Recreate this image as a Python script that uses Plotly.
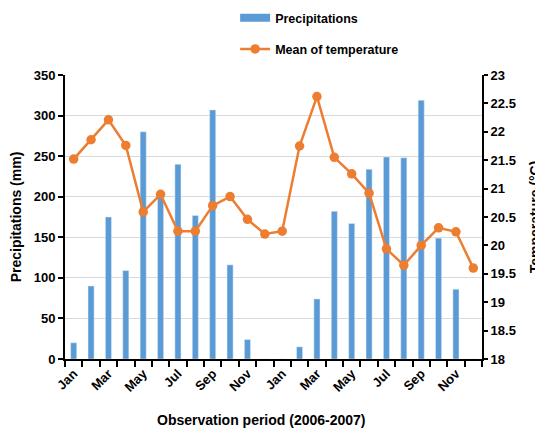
import plotly.graph_objects as go

months = ["Jan", "Feb", "Mar", "Apr", "May", "Jun", "Jul", "Aug", "Sep", "Oct", "Nov", "Dec"] * 2
precip = [20, 90, 175, 109, 280, 200, 240, 177, 307, 116, 24, 0,
          0, 15, 74, 182, 167, 234, 249, 248, 319, 149, 86, 0]
temp = [21.52, 21.86, 22.21, 21.76, 20.59, 20.90, 20.25, 20.25, 20.70, 20.86, 20.46, 20.20,
        20.25, 21.75, 22.62, 21.55, 21.26, 20.92, 19.94, 19.65, 20.00, 20.31, 20.24, 19.60]

x = list(range(len(months)))
tick_idx = x[::2]
tick_text = [months[i] for i in tick_idx]

FONT = "Liberation Sans, Arial, sans-serif"
BLUE = "#5B9BD5"
ORANGE = "#ED7D31"

fig = go.Figure()
fig.add_trace(go.Bar(x=x, y=precip, name="Precipitations", marker_color=BLUE,
                     width=0.35, showlegend=False, yaxis="y"))
# legend entry for bars (wide rectangle symbol as in the original)
fig.add_trace(go.Scatter(x=[None], y=[None], name="<b>Precipitations</b>", mode="lines",
                         line=dict(color=BLUE, width=8), legendgroup="a", yaxis="y"))
fig.add_trace(go.Scatter(x=x, y=temp, name="<b>Mean of temperature</b>", mode="lines+markers",
                         line=dict(color=ORANGE, width=2.5),
                         marker=dict(color=ORANGE, size=9.5), legendgroup="b", yaxis="y2"))

fig.update_layout(
    width=543, height=434,
    margin=dict(l=57, r=69, t=67, b=83, autoexpand=False),
    paper_bgcolor="white", plot_bgcolor="white",
    font=dict(family=FONT, size=13, color="black"),
    showlegend=True,
    legend=dict(x=0.408, y=1.2535, xanchor="left", yanchor="top",
                orientation="v", tracegroupgap=12, font=dict(size=12.5), bgcolor="rgba(0,0,0,0)"),
    xaxis=dict(range=[-0.5, 23.5], tickvals=tick_idx, ticktext=["<b>%s</b>" % t for t in tick_text],
               tickangle=-45, ticks="", showline=True, linecolor="black", linewidth=2,
               showgrid=False, zeroline=False, automargin=False,
               minor=dict(tickvals=[i - 0.5 for i in range(25)], ticks="outside", ticklen=6,
                          tickwidth=1.5, tickcolor="black", showgrid=False)),
    yaxis=dict(range=[0, 350], dtick=50, showline=True, linecolor="black", linewidth=2,
               ticks="outside", ticklen=5, tickwidth=1.5, tickcolor="black",
               showgrid=True, gridcolor="#D9D9D9", gridwidth=1, zeroline=False, automargin=False,
               tickprefix="<b>", ticksuffix="</b>",
               title=dict(text="<b>Precipitations (mm)</b>", font=dict(size=14))),
    yaxis2=dict(range=[18, 23], dtick=0.5, overlaying="y", side="right", showline=True,
                linecolor="black", linewidth=2, ticks="outside", ticklen=4, tickwidth=1.5,
                tickcolor="black", showgrid=False, zeroline=False, automargin=False,
                tickprefix="<b>", ticksuffix="</b>",
                title=dict(text="<b>Temperature (°C)</b>", font=dict(size=14))),
    annotations=[dict(text="<b>Observation period (2006-2007)</b>", xref="paper", yref="paper",
                      x=0.472, y=-0.215, xanchor="center", yanchor="middle", showarrow=False,
                      font=dict(size=14))],
)

fig.write_html("out.html")
